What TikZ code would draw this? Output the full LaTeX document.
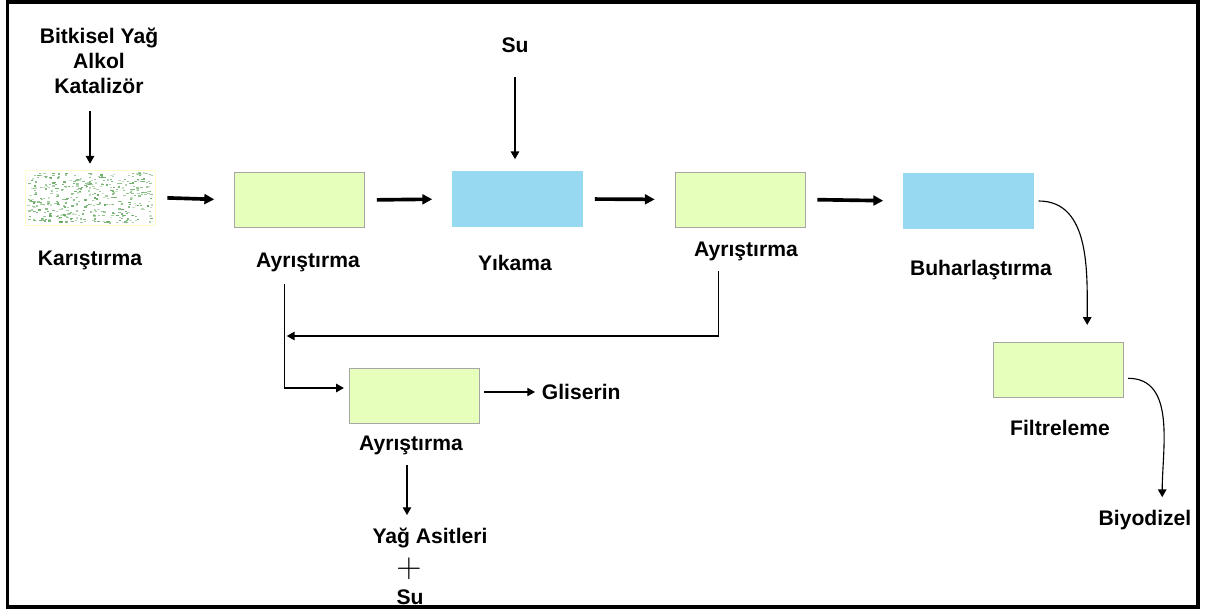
\documentclass[tikz,border=0pt]{standalone}
\usepackage{fontspec}
\setmainfont{Liberation Sans}
\usepackage{xcolor}
\usepackage{tikz}
\usetikzlibrary{positioning, arrows.meta, calc}

\definecolor{kutuyesil}{HTML}{E6FFBA}
\definecolor{kutumavi}{HTML}{96D9F0}
\definecolor{benekyesil}{HTML}{5FA55A}

\begin{document}
\begin{tikzpicture}[x=0.025cm, y=-0.025cm,
    every node/.style={font=\bfseries\fontsize{15}{18}\selectfont},
    kutu/.style={draw=gray!70, fill=kutuyesil, minimum width=3.25cm, minimum height=1.375cm, inner sep=0pt},
    mavikutu/.style={kutu, draw=kutumavi, fill=kutumavi},
    kalin/.style={line width=2.6pt, -{Triangle[length=7pt,width=7pt]}},
    ince/.style={line width=0.8pt, -{Triangle[length=5.5pt,width=6pt]}}]
      \useasboundingbox (0,0) rectangle (1205,611);
      \draw[line width=2.2pt] (7.5,2) rectangle (1198,607);

      % kutular
      \node[kutu, draw=yellow!20, fill=white] (kar) at (90,197.5) {};
      \pgfmathsetseed{12}
      \foreach \i in {1,...,420}{
        \pgfmathsetmacro{\px}{27+124*rnd}
        \pgfmathsetmacro{\py}{172+51*rnd}
        \pgfmathsetmacro{\op}{0.3+0.6*rnd}
        \fill[benekyesil, opacity=\op] (\px,\py) rectangle ++(2.4,1.3);
      }
      \node[kutu] (ayr1) at (299.5,200) {};
      \node[mavikutu] (yik) at (517.5,199) {};
      \node[kutu] (ayr2) at (740,199.5) {};
      \node[mavikutu] (buh) at (968.5,201) {};
      \node[kutu] (fil) at (1058,369.5) {};
      \node[kutu] (ayr3) at (414,396) {};

      % etiketler
      \foreach \n/\x/\y/\t in {lb1/90/260/Karıştırma, lb2/308/262/Ayrıştırma, lb3/515/263/Yıkama,
          lb4/746/251/Ayrıştırma, lb5/981/270/Buharlaştırma, lb6/1060/428/Filtreleme, lb7/411/445/Ayrıştırma}{
        \node (\n) at (\x,\y) {\t};
      }
      \node[align=center] (girdi) at (99,61) {Bitkisel Yağ\\Alkol\\Katalizör};
      \node (su) at (515,45) {Su};
      \node[anchor=west] (glis) at (537,392) {Gliserin};
      \node (yag) at (430,538) {Yağ Asitleri};
      \node[font=\fontsize{27}{27}\selectfont] (arti) at (409,569) {$+$};
      \node (su2) at (410,597) {Su};
      \node (biyo) at (1145,520) {Biyodizel};

      % oklar
      \foreach \a/\b in {kar/ayr1, ayr1/yik, yik/ayr2, ayr2/buh}{
        \draw[kalin, shorten <=0.3cm, shorten >=0.5cm] (\a.east) -- (\b.west);
      }
      \draw[ince, shorten <=0.3cm, shorten >=0.15cm] (kar.north |- girdi.south) -- (kar.north);
      \draw[ince, shorten <=0.5cm, shorten >=0.3cm] (su.south) -- (su.south |- yik.north);
      \draw[ince] ([xshift=0.12cm]buh.east) to[out=0, in=90] ([xshift=0.73cm, yshift=0.42cm]fil.north);
      \draw[ince] ([xshift=0.12cm, yshift=-0.22cm]fil.east) to[out=0, in=90] ([xshift=0.43cm, yshift=0.2cm]biyo.north);
      \draw[ince] ([xshift=-0.68cm, yshift=-0.15cm]lb4.south) |- ([xshift=-0.53cm]lb2.south |- 0,336);
      \draw[ince, shorten >=0.12cm] ([xshift=-0.58cm, yshift=-0.2cm]lb2.south) |- ([yshift=0.2cm]ayr3.west);
      \draw[ince, shorten <=0.12cm, shorten >=0.05cm] (ayr3.east |- glis.west) -- (glis.west);
      \draw[ince, shorten <=0.15cm, shorten >=0.2cm] ([xshift=-0.1cm]lb7.south) -- ([xshift=-0.1cm]lb7.south |- yag.north);
    \end{tikzpicture}
\end{document}
